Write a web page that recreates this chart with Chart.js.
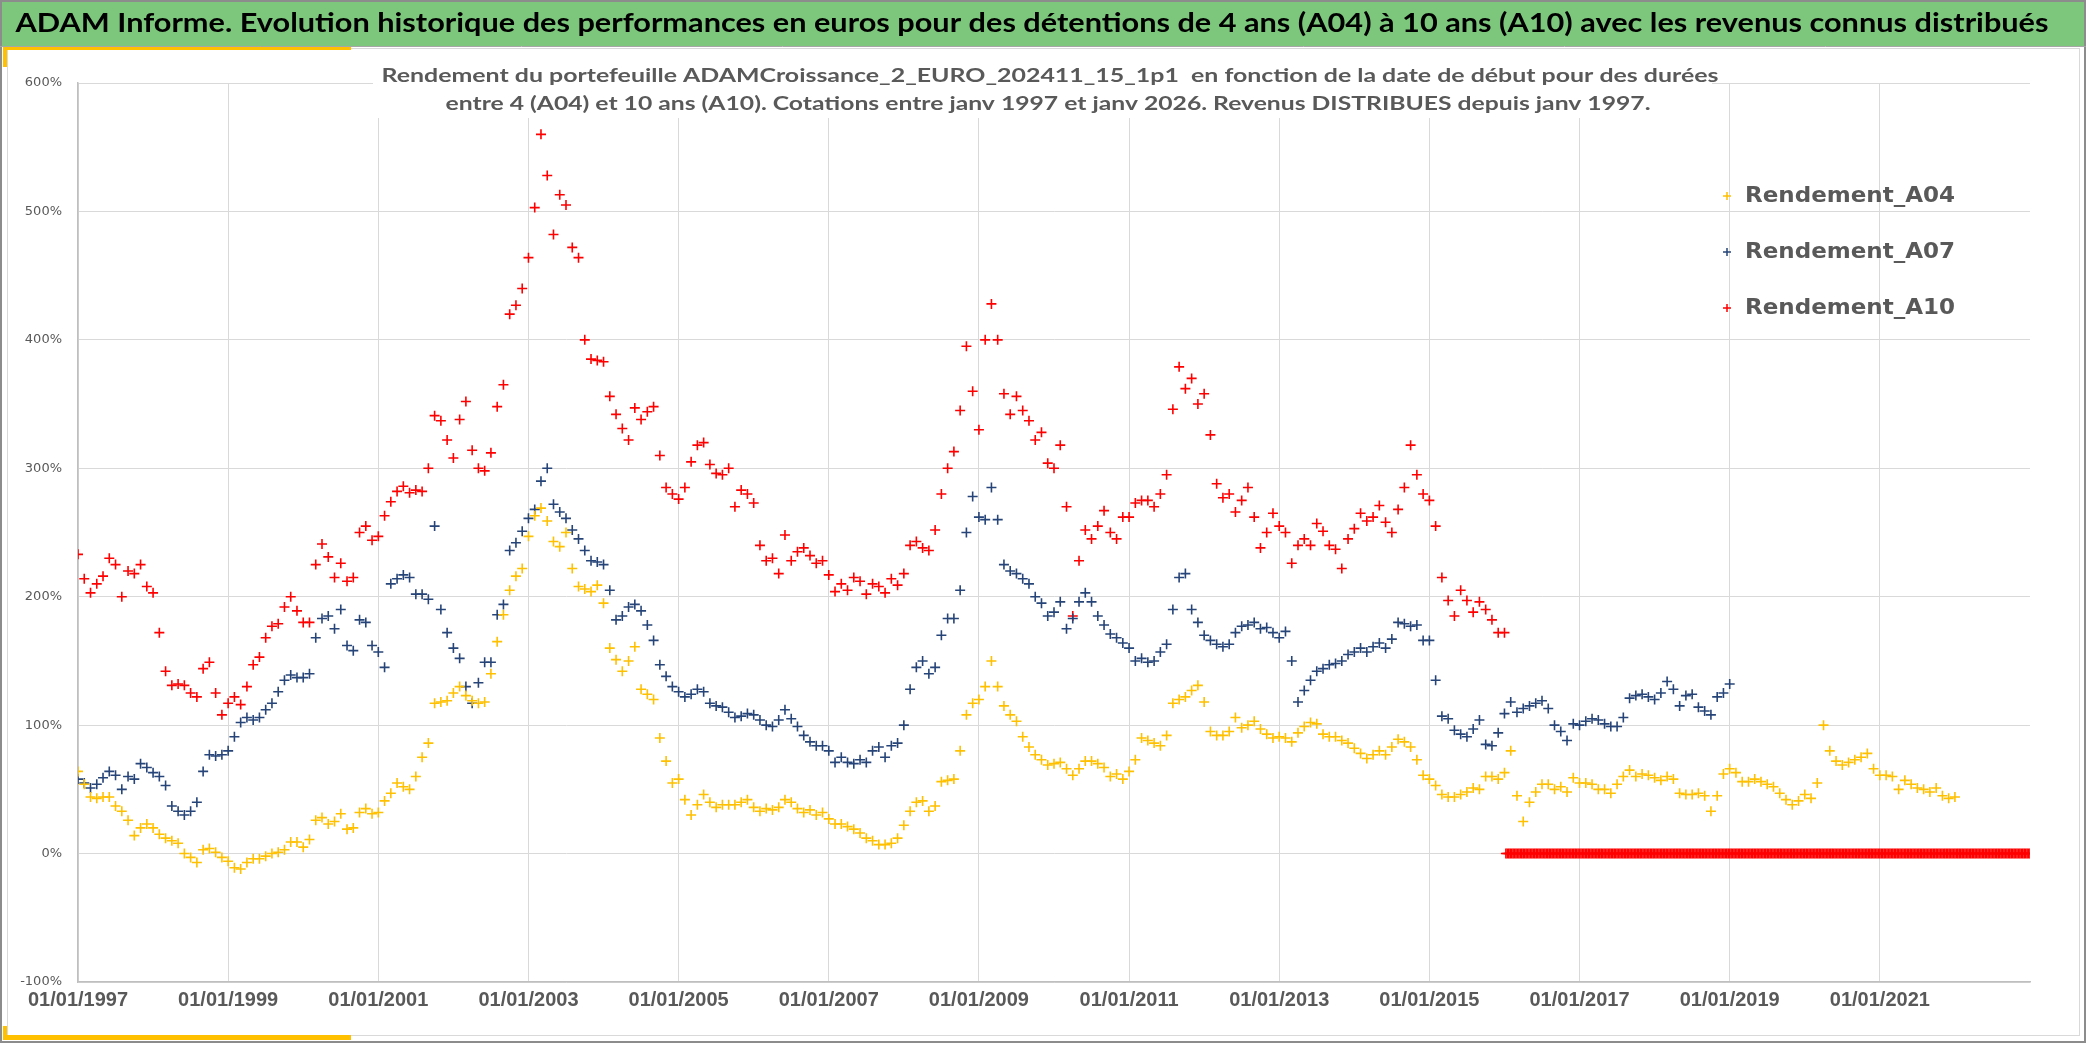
<!DOCTYPE html>
<html>
<head>
<meta charset="utf-8">
<script src="https://cdn.jsdelivr.net/npm/chart.js@4.4.1/dist/chart.umd.min.js"></script>
<style>
  html, body { margin: 0; padding: 0; background: #fff; overflow: hidden; }
  #cadre { position: relative; width: 2086px; height: 1043px; }
</style>
</head>
<body>
<div id="cadre"><canvas id="graphe" width="2086" height="1043"></canvas></div>
<script>
// Textes
var titre = 'ADAM Informe. Evolution historique des performances en euros pour des détentions de 4 ans (A04) à 10 ans (A10) avec les revenus connus distribués';
var sousTitre = [
    'Rendement du portefeuille ADAMCroissance_2_EURO_202411_15_1p1  en fonction de la date de début pour des durées',
    'entre 4 (A04) et 10 ans (A10). Cotations entre janv 1997 et janv 2026. Revenus DISTRIBUES depuis janv 1997.'
];
var noms = ['Rendement_A04', 'Rendement_A07', 'Rendement_A10'];

// Un point par mois à partir de janvier 1997 (valeurs en %)
var anneeDebut = 1997;
var rendA04 = [
    64, 54, 44, 43, 44, 44, 37, 33, 26, 14, 20, 23,
    20, 15, 12, 10, 8, 0, -3, -7, 3, 4, 1, -3,
    -6, -11, -12, -7, -4, -4, -2, 0, 1, 3, 9, 9,
    5, 11, 26, 28, 23, 25, 31, 19, 20, 32, 35, 31,
    32, 41, 47, 55, 52, 50, 60, 75, 86, 117, 118, 119,
    125, 130, 123, 119, 117, 118, 140, 165, 186, 205, 216, 222,
    247, 263, 269, 259, 243, 239, 250, 222, 208, 206, 204, 209,
    195, 160, 151, 142, 150, 161, 128, 124, 120, 90, 72, 55,
    58, 42, 30, 38, 46, 40, 36, 38, 38, 38, 40, 42,
    36, 33, 35, 34, 36, 42, 40, 35, 32, 34, 30, 32,
    27, 23, 23, 21, 19, 16, 12, 10, 7, 7, 8, 12,
    22, 33, 40, 41, 33, 37, 56, 57, 58, 80, 108, 117,
    120, 130, 150, 130, 115, 108, 103, 91, 83, 77, 73, 69,
    70, 71, 66, 61, 66, 72, 72, 70, 67, 60, 62, 58,
    64, 73, 90, 88, 86, 84, 92, 117, 120, 122, 127, 131,
    118, 95, 92, 92, 95, 106, 98, 100, 103, 97, 93, 90,
    91, 90, 87, 94, 99, 102, 101, 93, 91, 91, 88, 86,
    82, 78, 74, 77, 80, 77, 83, 89, 87, 83, 73, 61,
    58, 53, 46, 44, 44, 46, 48, 51, 50, 60, 60, 58,
    63, 80, 45, 25, 40, 48, 54, 54, 50, 52, 48, 59,
    55, 55, 54, 50, 50, 47, 54, 60, 65, 60, 62, 61,
    59, 57, 60, 58, 47, 46, 46, 47, 45, 33, 45, 62,
    66, 63, 56, 56, 58, 56, 54, 52, 47, 42, 38, 41,
    46, 43, 55, 100, 80, 72, 69, 71, 73, 75, 78, 66,
    61, 61, 60, 50, 57, 54, 51, 50, 48, 51, 45, 43,
    44
];
var rendA07 = [
    58, 55, 51, 54, 59, 64, 61, 50, 60, 58, 70, 67,
    63, 60, 53, 37, 33, 30, 33, 40, 64, 77, 76, 77,
    80, 91, 102, 106, 104, 106, 112, 117, 126, 135, 139, 137,
    137, 140, 168, 183, 185, 175, 190, 162, 158, 182, 180, 162,
    157, 145, 210, 214, 217, 215, 202, 202, 198, 255, 190, 172,
    160, 152, 130, 117, 133, 149, 149, 186, 194, 236, 242, 251,
    261, 268, 290, 300, 272, 266, 261, 252, 245, 236, 228, 227,
    225, 205, 182, 185, 192, 194, 189, 178, 166, 147, 138, 130,
    126, 122, 124, 128, 126, 117, 115, 114, 110, 106, 107, 109,
    108, 104, 100, 99, 104, 112, 105, 99, 92, 87, 84, 84,
    80, 71, 75, 71, 70, 73, 71, 80, 83, 75, 84, 86,
    100, 128, 145, 150, 140, 145, 170, 183, 183, 205, 250, 278,
    262, 260, 285, 260, 225, 220, 218, 214, 210, 200, 195, 185,
    188, 196, 175, 183, 196, 203, 196, 185, 178, 171, 168, 164,
    160, 150, 152, 149, 150, 157, 163, 190, 215, 218, 190, 180,
    170, 166, 163, 161, 163, 172, 177, 178, 180, 175, 176, 172,
    168, 173, 150, 118, 127, 135, 142, 144, 147, 148, 150, 155,
    157, 160, 157, 161, 164, 160, 167, 180, 179, 177, 178, 166,
    166, 135, 107, 105, 96, 93, 91, 97, 104, 85, 84, 94,
    109, 118, 110, 113, 115, 117, 119, 113, 100, 95, 88, 101,
    100, 103, 105, 104, 101, 99, 99, 106, 121, 123, 124, 122,
    120, 125, 134, 128, 115, 123, 124, 114, 111, 108, 122, 125,
    132
];
var rendA10 = [
    233, 214, 203, 210, 216, 230, 225, 200, 220, 218, 225, 208,
    203, 172, 142, 131, 132, 131, 125, 122, 144, 149, 125, 108,
    117, 122, 116, 130, 147, 153, 168, 177, 179, 192, 200, 189,
    180, 180, 225, 241, 231, 215, 226, 212, 215, 250, 255, 244,
    247, 263, 274, 282, 286, 281, 283, 282, 300, 341, 337, 322,
    308, 338, 352, 314, 300, 298, 312, 348, 365, 420, 427, 440,
    464, 503, 560, 528, 482, 513, 505, 472, 464, 400, 385, 384,
    383, 356, 342, 331, 322, 347, 338, 344, 348, 310, 285, 280,
    276, 285, 305, 318, 320, 303, 296, 295, 300, 270, 283, 280,
    273, 240, 228, 230, 218, 248, 228, 235, 238, 232, 226, 228,
    217, 204, 210, 205, 215, 212, 202, 210, 208, 203, 214, 209,
    218, 240, 243, 238, 236, 252, 280, 300, 313, 345, 395, 360,
    330, 400, 428, 400, 358, 342, 356, 345, 337, 322, 328, 304,
    300, 318, 270, 185, 228, 252, 245, 255, 267, 250, 245, 262,
    262, 273, 275, 275, 270, 280, 295, 346, 379, 362, 370, 350,
    358, 326, 288, 277, 280, 266, 275, 285, 262, 238, 250, 265,
    255, 250, 226, 240, 245, 240, 257, 251, 240, 237, 222, 245,
    253, 265, 259, 262, 271, 258, 250, 268, 285, 318, 295, 280,
    275, 255, 215, 197, 185, 205, 197, 188, 196, 190, 182, 172,
    172
];
// A10 après janvier 2016 : cotations hebdomadaires, toutes à 0 %
var a10DebutZeros = 2016;
var rendA10Zeros = [
    0, 0, 0, 0, 0, 0, 0, 0, 0, 0, 0, 0, 0, 0, 0, 0, 0, 0, 0, 0, 0, 0, 0, 0, 0, 0, 0, 0, 0, 0, 0, 0, 0, 0, 0, 0, 0, 0, 0, 0, 0, 0, 0, 0, 0, 0, 0, 0, 0, 0, 0, 0,
    0, 0, 0, 0, 0, 0, 0, 0, 0, 0, 0, 0, 0, 0, 0, 0, 0, 0, 0, 0, 0, 0, 0, 0, 0, 0, 0, 0, 0, 0, 0, 0, 0, 0, 0, 0, 0, 0, 0, 0, 0, 0, 0, 0, 0, 0, 0, 0, 0, 0, 0, 0,
    0, 0, 0, 0, 0, 0, 0, 0, 0, 0, 0, 0, 0, 0, 0, 0, 0, 0, 0, 0, 0, 0, 0, 0, 0, 0, 0, 0, 0, 0, 0, 0, 0, 0, 0, 0, 0, 0, 0, 0, 0, 0, 0, 0, 0, 0, 0, 0, 0, 0, 0, 0,
    0, 0, 0, 0, 0, 0, 0, 0, 0, 0, 0, 0, 0, 0, 0, 0, 0, 0, 0, 0, 0, 0, 0, 0, 0, 0, 0, 0, 0, 0, 0, 0, 0, 0, 0, 0, 0, 0, 0, 0, 0, 0, 0, 0, 0, 0, 0, 0, 0, 0, 0, 0,
    0, 0, 0, 0, 0, 0, 0, 0, 0, 0, 0, 0, 0, 0, 0, 0, 0, 0, 0, 0, 0, 0, 0, 0, 0, 0, 0, 0, 0, 0, 0, 0, 0, 0, 0, 0, 0, 0, 0, 0, 0, 0, 0, 0, 0, 0, 0, 0, 0, 0, 0, 0,
    0, 0, 0, 0, 0, 0, 0, 0, 0, 0, 0, 0, 0, 0, 0, 0, 0, 0, 0, 0, 0, 0, 0, 0, 0, 0, 0, 0, 0, 0, 0, 0, 0, 0, 0, 0, 0, 0, 0, 0, 0, 0, 0, 0, 0, 0, 0, 0, 0, 0, 0, 0,
    0, 0, 0, 0, 0, 0, 0, 0, 0, 0, 0, 0, 0, 0, 0, 0, 0, 0, 0, 0, 0, 0, 0, 0, 0, 0, 0, 0, 0, 0, 0, 0, 0, 0, 0, 0, 0, 0, 0, 0, 0, 0, 0, 0, 0, 0, 0, 0, 0, 0, 0, 0
];
var couleurs = ['#FFC000', '#264478', '#FF0000'];

function enPoints(valeurs) {
    return valeurs.map(function (v, i) { return { x: anneeDebut + i / 12, y: v }; });
}
function enPointsHebdo(valeurs, debut) {
    return valeurs.map(function (v, k) { return { x: debut + (k + 1) / 52, y: v }; });
}

// texte compressé horizontalement pour tenir dans une largeur donnée
function texteAjuste(ctx, txt, x, y, largeur, police, couleur, align) {
    ctx.save();
    ctx.font = police;
    var k = largeur / ctx.measureText(txt).width;
    ctx.translate(x, y);
    ctx.scale(k, 1);
    ctx.textAlign = align;
    ctx.textBaseline = 'middle';
    ctx.fillStyle = couleur;
    ctx.fillText(txt, 0, 0);
    ctx.restore();
}

var decor = {
    id: 'decor',
    beforeDraw: function (chart) {
        var ctx = chart.ctx, W = chart.width, H = chart.height;
        ctx.save();
        ctx.fillStyle = '#ffffff';
        ctx.fillRect(0, 0, W, H);
        // bandeau vert
        ctx.fillStyle = '#7dc77d';
        ctx.fillRect(0, 0, W, 46);
        // fine bordure intérieure
        ctx.strokeStyle = '#d9d9d9';
        ctx.lineWidth = 1;
        ctx.strokeRect(7.5, 48.5, W - 14, H - 56);
        // accents jaunes
        ctx.fillStyle = '#FFC000';
        ctx.fillRect(3, 46, 348, 4);
        ctx.fillRect(3, 46, 4, 21);
        ctx.fillRect(3, 1035, 348, 5);
        ctx.fillRect(3, 1026, 4, 14);
        // bordure extérieure
        ctx.strokeStyle = '#8c8c8c';
        ctx.lineWidth = 2;
        ctx.strokeRect(1, 1, W - 2, H - 2);
        ctx.beginPath();
        ctx.moveTo(0, 46.5); ctx.lineTo(W, 46.5);
        ctx.lineWidth = 1;
        ctx.strokeStyle = '#a6a6a6';
        ctx.stroke();
        ctx.restore();
        texteAjuste(ctx, titre, 1032, 23, 2033, 'bold 27px Lato', '#000000', 'center');
    },
    afterDraw: function (chart) {
        var ctx = chart.ctx;
        ctx.save();
        ctx.fillStyle = '#ffffff';
        ctx.fillRect(373, 60, 1339, 58);
        ctx.restore();
        texteAjuste(ctx, sousTitre[0], 1050, 76, 1337, 'bold 19px Lato', '#595959', 'center');
        texteAjuste(ctx, sousTitre[1], 1048, 104, 1205, 'bold 19px Lato', '#595959', 'center');
        // légende
        chart.data.datasets.forEach(function (ds, i) {
            var y = 196 + 56 * i;
            ctx.save();
            ctx.strokeStyle = ds.borderColor;
            ctx.lineWidth = 1.5;
            ctx.beginPath();
            ctx.moveTo(1723, y); ctx.lineTo(1731, y);
            ctx.moveTo(1727, y - 4); ctx.lineTo(1727, y + 4);
            ctx.stroke();
            ctx.restore();
            texteAjuste(ctx, ds.label, 1745, y, 210, 'bold 22px "DejaVu Sans"', '#595959', 'left');
        });
    }
};

var donnees = [
    enPoints(rendA04),
    enPoints(rendA07),
    enPoints(rendA10).concat(enPointsHebdo(rendA10Zeros, a10DebutZeros))
];

new Chart(document.getElementById('graphe'), {
    type: 'scatter',
    data: {
        datasets: donnees.map(function (pts, i) {
            return {
                label: noms[i],
                data: pts,
                borderColor: couleurs[i],
                backgroundColor: couleurs[i],
                pointStyle: 'cross',
                pointRadius: 5,
                pointBorderWidth: 1.6,
                showLine: false
            };
        })
    },
    options: {
        responsive: false,
        animation: false,
        events: [],
        layout: { padding: { left: 0, top: 83, right: 56, bottom: 21 } },
        plugins: { legend: { display: false }, tooltip: { enabled: false } },
        scales: {
            x: {
                type: 'linear',
                min: 1997,
                max: 2023,
                afterBuildTicks: function (s) {
                    s.ticks = s.ticks.filter(function (t) { return t.value <= 2021; });
                },
                afterFit: function (s) { s.height = 40; },
                ticks: {
                    stepSize: 2,
                    padding: 6,
                    maxRotation: 0,
                    color: '#595959',
                    font: { family: '"Liberation Sans"', size: 20, weight: 'bold' },
                    callback: function (v) { return '01/01/' + v; }
                },
                grid: { color: '#d9d9d9', drawTicks: false },
                border: { color: '#bfbfbf', width: 1.5 }
            },
            y: {
                min: -100,
                max: 600,
                afterFit: function (s) { s.width = 78; },
                ticks: {
                    stepSize: 100,
                    padding: 16,
                    color: '#595959',
                    font: { family: '"DejaVu Sans"', size: 13 },
                    callback: function (v) { return v + '%'; }
                },
                grid: { color: '#d9d9d9', drawTicks: false },
                border: { color: '#bfbfbf', width: 1.5 }
            }
        }
    },
    plugins: [decor]
});
</script>
</body>
</html>
